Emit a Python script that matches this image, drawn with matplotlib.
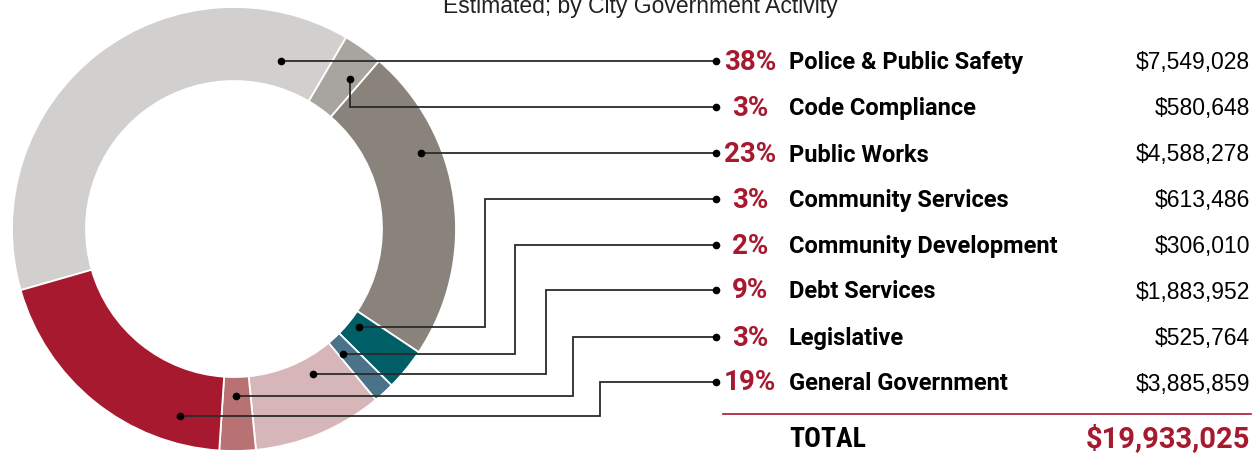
import numpy as np
import matplotlib
matplotlib.use("Agg")
import matplotlib.pyplot as plt

# budget by city government activity (estimated)
activities = ["Police & Public Safety", "Code Compliance", "Public Works",
              "Community Services", "Community Development", "Debt Services",
              "Legislative", "General Government"]
amounts = [7549028, 580648, 4588278, 613486, 306010, 1883952, 525764, 3885859]
colors = ["#d1d0ce", "#a8a49f", "#8a837c", "#005e66", "#4a7289", "#d6b6b8",
          "#b87274", "#a6192e"]
title = "Estimated; by City Government Activity"

RED = "#a6192e"
W, H = 1260, 453
plt.rcParams['font.family'] = ['Roboto Condensed', 'Roboto', 'DejaVu Sans']
LABEL_FONT = ['Roboto', 'DejaVu Sans']
PLAIN_FONT = ['Liberation Sans', 'DejaVu Sans']

fig = plt.figure(figsize=(W / 100, H / 100), dpi=100)
ax = fig.add_axes([0, 0, 1, 1])

# donut (pixel coords, y measured from bottom)
cx, cy, R, ring = 234, H - 229, 222, 74
start = 196
wedges, _ = ax.pie(amounts, colors=colors, startangle=start, counterclock=False,
                   radius=R, center=(cx, cy), frame=True,
                   wedgeprops=dict(width=ring, edgecolor="white", linewidth=1.3))

total = sum(amounts)
pcts = [round(a / total * 100) for a in amounts]

# leader anchors: angle clockwise from top, radius ; elbow x (None = straight)
anchor_ang = [15.6, 37.7, 67.9, 128.0, 138.9, 151.4, 179.3, 196.0]
anchor_r = [174, 190, 202, 159, 166, 165, 167, 195]
elbow_x = [None, None, None, 485, 515, 546, 573, 600]
row_y = [61, 107, 153, 199, 245, 290, 337, 382]
end_x = 716

for i in range(len(amounts)):
    a = np.radians(anchor_ang[i])
    dx = cx + anchor_r[i] * np.sin(a)
    dy = cy + anchor_r[i] * np.cos(a)
    ex = dx if elbow_x[i] is None else elbow_x[i]
    ry = H - row_y[i]
    ax.plot([dx, ex, ex, end_x], [dy, dy, ry, ry], color="#2b2b2b", lw=1.3,
            solid_joinstyle="miter", zorder=3)
    ax.plot([dx, end_x], [dy, ry], "o", color="black", ms=4.5, zorder=4)

    base = ry - 8.5
    ax.text(750, base, f"{pcts[i]}%", color=RED, fontsize=20,
            fontweight="bold", family=LABEL_FONT, ha="center", va="baseline")
    ax.text(789, base, activities[i], color="black", fontsize=17,
            fontweight="bold", family=LABEL_FONT, ha="left", va="baseline")
    ax.text(1250, base, f"${amounts[i]:,}", color="black", fontsize=16.5,
            family=PLAIN_FONT, ha="right", va="baseline")

ax.plot([723, 1251], [H - 414, H - 414], color=RED, lw=1.2)
ax.text(789, H - 447, "TOTAL", color="black", fontsize=20, fontweight="bold",
        ha="left", va="baseline")
ax.text(1250, H - 447, f"${total:,}", color=RED, fontsize=21,
        fontweight="bold", family=LABEL_FONT, ha="right", va="baseline")

ax.text(640, H - 13, title, color="#222222", fontsize=16.5, family=PLAIN_FONT,
        ha="center", va="baseline")

ax.set_xlim(0, W)
ax.set_ylim(0, H)
ax.axis("off")

fig.savefig("out.png", dpi=100)
